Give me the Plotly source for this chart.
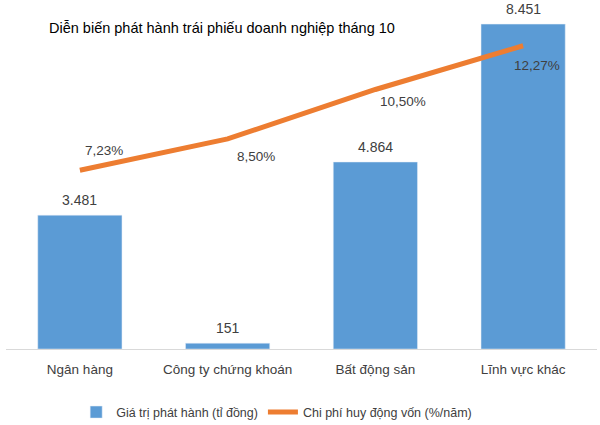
import plotly.graph_objects as go

categories = ["Ngân hàng", "Công ty chứng khoán", "Bất động sản", "Lĩnh vực khác"]
issue_values = [3481, 151, 4864, 8451]
issue_labels = ["3.481", "151", "4.864", "8.451"]
cost_values = [7.23, 8.50, 10.50, 12.27]
cost_labels = ["7,23%", "8,50%", "10,50%", "12,27%"]

BLUE = "#5B9BD5"
ORANGE = "#ED7D31"
TXT = "#404040"
FONT = "Liberation Sans"

fig = go.Figure()
fig.add_trace(go.Bar(
    x=categories, y=issue_values, name="Giá trị phát hành (tỉ đồng)",
    marker_color=BLUE, width=0.57, yaxis="y",
))
fig.add_trace(go.Scatter(
    x=categories, y=cost_values, name="Chi phí huy động vốn (%/năm)",
    mode="lines", line=dict(color=ORANGE, width=5), yaxis="y2",
))

annotations = []
for c, v, t in zip(categories, issue_values, issue_labels):
    annotations.append(dict(x=c, y=v, yref="y", text=t, showarrow=False,
                            yanchor="bottom", yshift=5,
                            font=dict(family=FONT, size=14, color=TXT)))
# line labels: first above-right, others below-right
offsets = [(24, 20), (28, -18), (28, -12), (14, -20)]
for (c, v, t), (dx, dy) in zip(zip(categories, cost_values, cost_labels), offsets):
    annotations.append(dict(x=c, y=v, yref="y2", text=t, showarrow=False,
                            xshift=dx, yshift=dy,
                            font=dict(family=FONT, size=13.5, color=TXT)))
annotations.append(dict(x=(47 - 6) / 591, y=(349 - 28) / 346, xref="paper", yref="paper",
                        text="Diễn biến phát hành trái phiếu doanh nghiệp tháng 10",
                        showarrow=False, xanchor="left", yanchor="middle",
                        font=dict(family=FONT, size=14.5, color="#000000")))

fig.update_layout(
    width=600, height=425,
    margin=dict(l=6, r=3, t=3, b=76, autoexpand=False),
    plot_bgcolor="white", paper_bgcolor="white",
    showlegend=True,
    legend=dict(orientation="h", x=0.458, xanchor="center", y=-0.14, yanchor="top",
                font=dict(family=FONT, size=12.5, color=TXT), itemwidth=30,
                tracegroupgap=0),
    xaxis=dict(showgrid=False, showline=True, linecolor="#D9D9D9", linewidth=1,
               ticks="outside", ticklen=8, tickcolor="rgba(0,0,0,0)", automargin=False,
               tickfont=dict(family=FONT, size=13.5, color=TXT), fixedrange=True),
    yaxis=dict(range=[0, 9000], visible=False, showgrid=False, automargin=False),
    yaxis2=dict(range=[0, 14], visible=False, overlaying="y", side="right", showgrid=False,
                automargin=False),
    annotations=annotations,
    bargap=0.43,
)

fig.write_html("out.html", config={"displayModeBar": False},
               post_script="document.body.style.margin='0';document.body.style.overflow='hidden';")
